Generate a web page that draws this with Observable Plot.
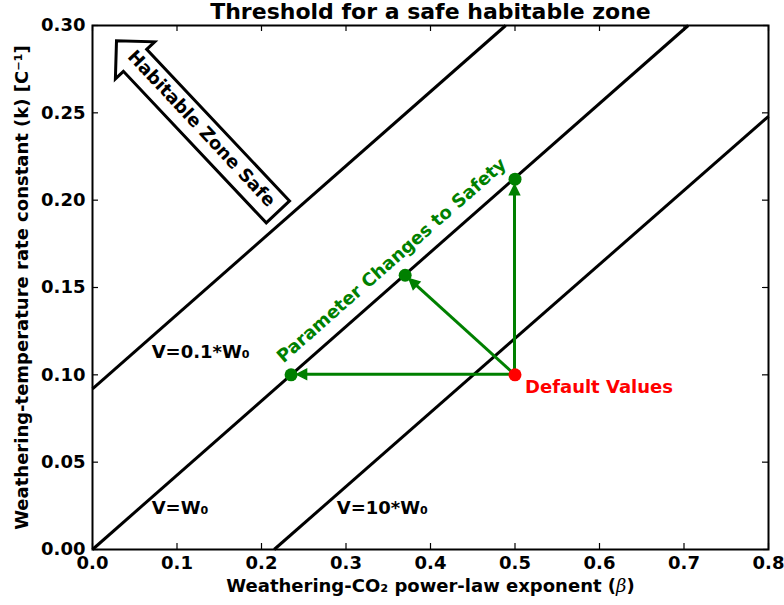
<!DOCTYPE html>
<html><head><meta charset="utf-8">
<script src="https://cdn.jsdelivr.net/npm/d3@7"></script>
<script src="https://cdn.jsdelivr.net/npm/@observablehq/plot@0.6"></script>
<style>body{margin:0;background:#fff}</style>
</head><body><div id="chart"></div>
<script>
// ---- data ----
const title = "Threshold for a safe habitable zone";
const xLabel = "Weathering-CO₂ power-law exponent (β)";
const yLabel = "Weathering-temperature rate constant (k) [C⁻¹]";
const xTicks = [0, 0.1, 0.2, 0.3, 0.4, 0.5, 0.6, 0.7, 0.8];
const yTicks = [0, 0.05, 0.10, 0.15, 0.20, 0.25, 0.30];

const thresholdNames = ["V=0.1*W₀", "V=W₀", "V=10*W₀"];
const thresholdBeta1 = [0, 0, 0.215];
const thresholdK1 = [0.092, 0, 0];
const thresholdBeta2 = [0.489, 0.705, 0.8];
const thresholdK2 = [0.30, 0.30, 0.248];
const labelBeta = [0.070, 0.070, 0.289];
const labelK = [0.113, 0.0235, 0.0235];

const defaultName = "Default Values";
const defaultBeta = [0.5];
const defaultK = [0.10];

const safeBeta = [0.235, 0.37, 0.5];
const safeK = [0.10, 0.157, 0.212];

const changesText = "Parameter Changes to Safety";
const changesBeta = [0.354];
const changesK = [0.1655];

const habitableText = "Habitable Zone Safe";
const habitableTipBeta = 0.029, habitableTipK = 0.291;
const habitableTailBeta = 0.220, habitableTailK = 0.193;
const habitableTextBeta = [0.129], habitableTextK = [0.241];

// ---- tables ----
const thresholds = thresholdNames.map((name, i) => ({
  name, b1: thresholdBeta1[i], k1: thresholdK1[i], b2: thresholdBeta2[i], k2: thresholdK2[i],
  lb: labelBeta[i], lk: labelK[i]
}));
const safe = safeBeta.map((b, i) => ({b, k: safeK[i], b0: defaultBeta[0], k0: defaultK[0]}));

const W = 784, H = 605, mL = 92, mR = 16, mT = 25, mB = 56;
const innerW = W - mL - mR, innerH = H - mT - mB;
const green = "#008000", red = "#ff0000";
const FS = 18;

function getScales(scales) {
  let sx = scales && scales.x, sy = scales && scales.y;
  if (typeof sx !== "function") sx = d3.scaleLinear([0, 0.8], [mL, W - mR]);
  if (typeof sy !== "function") sy = d3.scaleLinear([0, 0.30], [H - mB, mT]);
  return [sx, sy];
}

function boxArrow(index, scales) {
  const [sx, sy] = getScales(scales);
  const T = [sx(habitableTipBeta), sy(habitableTipK)];
  const C = [sx(habitableTailBeta), sy(habitableTailK)];
  const dx = T[0] - C[0], dy = T[1] - C[1], len = Math.hypot(dx, dy);
  const u = [dx / len, dy / len], n = [-u[1], u[0]];
  const w = 16, h = 27, L = 27;
  const N = [T[0] - u[0] * L, T[1] - u[1] * L];
  const p = (P, s) => [P[0] + n[0] * s, P[1] + n[1] * s];
  const pts = [p(C, w), p(N, w), p(N, h), T, p(N, -h), p(N, -w), p(C, -w)];
  const g = d3.create("svg:g");
  g.append("path")
    .attr("d", "M" + pts.map(q => q.join(",")).join("L") + "Z")
    .attr("fill", "white").attr("stroke", "black").attr("stroke-width", 3)
    .attr("stroke-linejoin", "miter");
  return g.node();
}

// green shafts with small filled triangular heads
function changeArrows(index, scales) {
  const [sx, sy] = getScales(scales);
  const g = d3.create("svg:g");
  const inset = 6, HL = 10, HW = 5;
  for (const d of safe) {
    const S = [sx(d.b0), sy(d.k0)], E0 = [sx(d.b), sy(d.k)];
    const dx = E0[0] - S[0], dy = E0[1] - S[1], len = Math.hypot(dx, dy);
    const u = [dx / len, dy / len], n = [-u[1], u[0]];
    const tip = [E0[0] - u[0] * inset, E0[1] - u[1] * inset];
    const base = [tip[0] - u[0] * HL, tip[1] - u[1] * HL];
    g.append("line").attr("x1", S[0]).attr("y1", S[1]).attr("x2", base[0] + u[0] * 2).attr("y2", base[1] + u[1] * 2)
      .attr("stroke", green).attr("stroke-width", 3);
    const pts = [tip, [base[0] + n[0] * HW, base[1] + n[1] * HW], [base[0] - n[0] * HW, base[1] - n[1] * HW]];
    g.append("path").attr("d", "M" + pts.map(q => q.join(",")).join("L") + "Z")
      .attr("fill", green).attr("stroke", green).attr("stroke-width", 1.5).attr("stroke-linejoin", "miter");
  }
  return g.node();
}

const plot = Plot.plot({
  width: W, height: H,
  marginLeft: mL, marginRight: mR, marginTop: mT, marginBottom: mB,
  style: {fontFamily: "DejaVu Sans", fontSize: FS + "px", fontWeight: "bold", color: "black", background: "white"},
  x: {domain: [0, 0.8]},
  y: {domain: [0, 0.30]},
  marks: [
    Plot.link(thresholds, {x1: "b1", y1: "k1", x2: "b2", y2: "k2", stroke: "black", strokeWidth: 3}),
    Plot.text(thresholds, {x: "lb", y: "lk", text: "name", textAnchor: "start", fontSize: FS, fontWeight: "bold", fill: "black"}),
    boxArrow,
    Plot.text([habitableText], {x: () => habitableTextBeta[0], y: () => habitableTextK[0], text: d => d, rotate: 46.9, fontSize: FS, fontWeight: "bold"}),
    changeArrows,
    Plot.dot(safe, {x: "b", y: "k", r: 6.5, fill: green}),
    Plot.dot(defaultBeta, {x: d => d, y: (d, i) => defaultK[i], r: 6.5, fill: red}),
    Plot.text([defaultName], {x: () => defaultBeta[0], y: () => defaultK[0], text: d => d, dx: 10, dy: 12, textAnchor: "start", fill: red, fontSize: FS, fontWeight: "bold"}),
    Plot.text([changesText], {x: () => changesBeta[0], y: () => changesK[0], text: d => d, rotate: -41.4, fill: green, fontSize: FS, fontWeight: "bold"}),
    Plot.ruleX(xTicks, {x: d => d, insetTop: innerH - 6, stroke: "black", strokeWidth: 1.2}),
    Plot.ruleX(xTicks, {x: d => d, insetBottom: innerH - 6, stroke: "black", strokeWidth: 1.2}),
    Plot.ruleY(yTicks, {y: d => d, insetRight: innerW - 6, stroke: "black", strokeWidth: 1.2}),
    Plot.ruleY(yTicks, {y: d => d, insetLeft: innerW - 6, stroke: "black", strokeWidth: 1.2}),
    Plot.frame({stroke: "black", strokeWidth: 2}),
    Plot.axisX({ticks: xTicks, tickSize: 0, tickPadding: 7, tickFormat: d3.format(".1f"), label: null}),
    Plot.axisY({ticks: yTicks, tickSize: 0, tickPadding: 7, tickFormat: d3.format(".2f"), label: null}),
    Plot.text([xLabel], {frameAnchor: "bottom", text: d => d, dy: 37, lineAnchor: "middle", textAnchor: "middle", fontSize: FS, fontWeight: "bold"}),
    Plot.text([yLabel], {frameAnchor: "left", text: d => d, dx: -70, rotate: -90, lineAnchor: "middle", textAnchor: "middle", fontSize: FS, fontWeight: "bold"}),
    Plot.text([title], {frameAnchor: "top", text: d => d, dy: -14, lineAnchor: "middle", textAnchor: "middle", fontSize: 22, fontWeight: "bold"})
  ]
});
document.getElementById("chart").appendChild(plot);

plot.querySelectorAll("text").forEach(t => {
  if (t.textContent === xLabel) {
    const parts = xLabel.split("β");
    t.textContent = parts[0];
    const ts = document.createElementNS("http://www.w3.org/2000/svg", "tspan");
    ts.setAttribute("font-style", "italic");
    ts.setAttribute("font-weight", "normal");
    ts.setAttribute("font-family", "DejaVu Serif");
    ts.textContent = "β";
    t.appendChild(ts);
    t.appendChild(document.createTextNode(parts[1]));
  }
});
</script>
</body></html>
